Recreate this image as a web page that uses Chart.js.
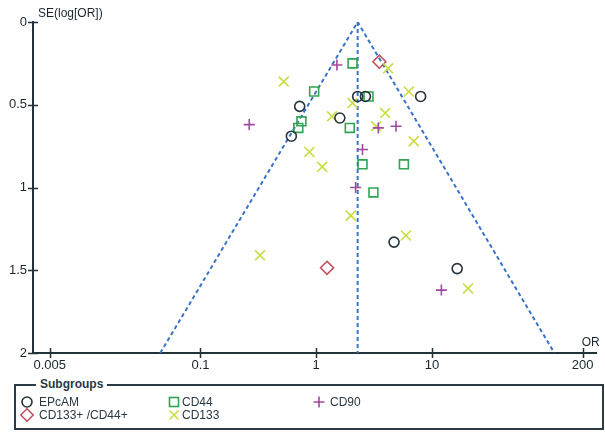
<!DOCTYPE html>
<html>
<head>
<meta charset="utf-8">
<script src="https://cdn.jsdelivr.net/npm/chart.js@4.4.0/dist/chart.umd.min.js"></script>
<style>
  body { margin: 0; background: #fff; width: 605px; height: 432px; overflow: hidden; position: relative;
         font-family: "Liberation Sans", Arial, sans-serif; color: #2a3944; }
  #chart { position: absolute; left: 0; top: 0; }
  #legend { position: absolute; left: 14px; top: 384px; width: 586px; height: 42px; border: 2px solid #2b3a44; }
  #legend .title { position: absolute; left: 20px; top: -9px; background: #fff; padding: 0 4px; font-weight: bold; font-size: 12px; }
  #legend .item { position: absolute; font-size: 12px; line-height: 14px; white-space: nowrap; }
  #legend svg { position: absolute; }
</style>
</head>
<body>
<canvas id="chart" width="605" height="378"></canvas>
<div id="legend"><span class="title">Subgroups</span></div>
<script>
// tick positions and labels
const xTickValues = [0.005, 0.1, 1, 10, 200];
const xTickLabels = ['0.005', '0.1', '1', '10', '200'];
const yTickValues = [0, 0.5, 1, 1.5, 2];
const yTickLabels = ['0', '0.5', '1', '1.5', '2'];

// subgroup points: odds ratio and SE(log OR)
const epcamOR = [0.72, 0.61, 1.60, 2.28, 2.66, 7.98, 4.70, 16.5];
const epcamSE = [0.51, 0.69, 0.58, 0.45, 0.45, 0.45, 1.33, 1.49];

const cd44OR = [2.06, 0.96, 2.83, 0.745, 0.70, 1.95, 2.51, 5.72, 3.12];
const cd44SE = [0.25, 0.42, 0.45, 0.60, 0.64, 0.64, 0.86, 0.86, 1.03];

const cd90OR = [0.264, 1.51, 3.44, 4.89, 2.51, 2.19, 12.05];
const cd90SE = [0.62, 0.26, 0.64, 0.63, 0.77, 1.00, 1.62];

const cd133OR = [0.524, 4.18, 6.31, 2.06, 1.37, 3.94, 3.30, 6.96, 0.872, 1.125, 1.99, 5.95, 20.5, 0.327];
const cd133SE = [0.36, 0.28, 0.42, 0.49, 0.57, 0.55, 0.63, 0.72, 0.785, 0.875, 1.17, 1.29, 1.61, 1.41];

const comboOR = [3.51, 1.24];
const comboSE = [0.24, 1.485];

// funnel: apex and 95% limits at SE = 2
const funnelOR = [0.045, 2.28, 114];
const funnelSE = [2, 0, 2];
const centreOR = [2.28, 2.28];
const centreSE = [0, 2];

const axisColor = '#24323b';
const textColor = '#1a262e';
const blue = '#3a74c6';

function pts(xs, ys) { return xs.map((v, i) => ({ x: v, y: ys[i] })); }

function markerSet(label, xs, ys, style, color, radius) {
  return {
    label: label,
    data: pts(xs, ys),
    pointStyle: style,
    pointRadius: radius,
    pointHoverRadius: radius,
    pointBorderColor: color,
    pointBackgroundColor: 'transparent',
    pointBorderWidth: 1.6,
    showLine: false
  };
}

const decor = {
  id: 'decor',
  afterDraw(chart) {
    const ctx = chart.ctx;
    const x = chart.scales.x, y = chart.scales.y;
    ctx.save();
    ctx.strokeStyle = axisColor;
    ctx.lineWidth = 1.5;
    ctx.beginPath();
    xTickValues.forEach(v => {
      const px = Math.round(x.getPixelForValue(v)) + 0.5;
      ctx.moveTo(px, y.bottom - 5); ctx.lineTo(px, y.bottom + 5);
    });
    yTickValues.forEach(v => {
      const py = Math.round(y.getPixelForValue(v)) + 0.5;
      ctx.moveTo(x.left - 5, py); ctx.lineTo(x.left + 5, py);
    });
    ctx.stroke();
    ctx.fillStyle = textColor;
    ctx.font = '12px "Liberation Sans", Arial, sans-serif';
    ctx.textBaseline = 'middle';
    ctx.textAlign = 'left';
    ctx.fillText('SE(log[OR])', x.left + 5, 14);
    ctx.fillText('OR', x.getPixelForValue(200) - 1, y.bottom - 10);
    ctx.restore();
  }
};

new Chart(document.getElementById('chart'), {
  type: 'scatter',
  data: {
    datasets: [
      markerSet('EPcAM', epcamOR, epcamSE, 'circle', '#26343c', 5),
      markerSet('CD44', cd44OR, cd44SE, 'rect', '#2fa552', 6.3),
      markerSet('CD90', cd90OR, cd90SE, 'cross', '#a4479e', 5.5),
      markerSet('CD133', cd133OR, cd133SE, 'crossRot', '#cadc3e', 7),
      markerSet('CD133+ /CD44+', comboOR, comboSE, 'rectRot', '#c0505e', 6.5),
      {
        label: 'funnel',
        data: pts(funnelOR, funnelSE),
        showLine: true,
        borderColor: blue,
        borderWidth: 2,
        borderDash: [4, 3],
        pointRadius: 0
      },
      {
        label: 'pooled',
        data: pts(centreOR, centreSE),
        showLine: true,
        borderColor: blue,
        borderWidth: 2,
        borderDash: [4, 3],
        pointRadius: 0
      }
    ]
  },
  options: {
    responsive: false,
    animation: false,
    layout: { padding: { left: 0, top: 22, right: 2, bottom: 0 } },
    plugins: { legend: { display: false }, tooltip: { enabled: false } },
    scales: {
      x: {
        type: 'logarithmic',
        min: 0.00358,
        max: 263,
        afterFit(scale) { scale.height = 25; },
        afterBuildTicks(scale) { scale.ticks = xTickValues.map(v => ({ value: v })); },
        grid: { drawOnChartArea: false, color: 'transparent', tickLength: 5 },
        border: { display: true, color: axisColor, width: 2 },
        ticks: {
          autoSkip: false,
          maxRotation: 0,
          padding: 0,
          color: textColor,
          font: { family: '"Liberation Sans", Arial, sans-serif', size: 13 },
          callback: (v, i) => xTickLabels[i]
        }
      },
      y: {
        type: 'linear',
        reverse: true,
        min: 0,
        max: 2,
        afterFit(scale) { scale.width = 33; },
        afterBuildTicks(scale) { scale.ticks = yTickValues.map(v => ({ value: v })); },
        grid: { drawOnChartArea: false, color: 'transparent', tickLength: 5 },
        border: { display: true, color: axisColor, width: 2 },
        ticks: {
          padding: 1,
          color: textColor,
          font: { family: '"Liberation Sans", Arial, sans-serif', size: 13 },
          callback: (v, i) => yTickLabels[i]
        }
      }
    }
  },
  plugins: [decor]
});

// html legend in a titled box, like the original
const legendItems = [
  { label: 'EPcAM', col: 0, row: 0, shape: '<circle cx="7" cy="7" r="5" fill="none" stroke="#26343c" stroke-width="1.6"/>' },
  { label: 'CD44', col: 1, row: 0, shape: '<rect x="2.5" y="2.5" width="9" height="9" fill="none" stroke="#2fa552" stroke-width="1.6"/>' },
  { label: 'CD90', col: 2, row: 0, shape: '<path d="M7 1.5V12.5M1.5 7H12.5" stroke="#a4479e" stroke-width="1.6"/>' },
  { label: 'CD133+ /CD44+', col: 0, row: 1, shape: '<path d="M7 0.8L13.2 7L7 13.2L0.8 7Z" fill="none" stroke="#c0505e" stroke-width="1.6"/>' },
  { label: 'CD133', col: 1, row: 1, shape: '<path d="M2.5 2.5L11.5 11.5M11.5 2.5L2.5 11.5" stroke="#cadc3e" stroke-width="1.6"/>' }
];
const colMarker = [4, 151, 296];
const colText = [23, 166, 314];
const rowY = [16, 29];
const legend = document.getElementById('legend');
legendItems.forEach(it => {
  const svg = document.createElementNS('http://www.w3.org/2000/svg', 'svg');
  svg.setAttribute('width', 14);
  svg.setAttribute('height', 14);
  svg.innerHTML = it.shape;
  svg.style.left = colMarker[it.col] + 'px';
  svg.style.top = (rowY[it.row] - 7) + 'px';
  legend.appendChild(svg);
  const t = document.createElement('div');
  t.className = 'item';
  t.textContent = it.label;
  t.style.left = colText[it.col] + 'px';
  t.style.top = (rowY[it.row] - 7) + 'px';
  legend.appendChild(t);
});
</script>
</body>
</html>
